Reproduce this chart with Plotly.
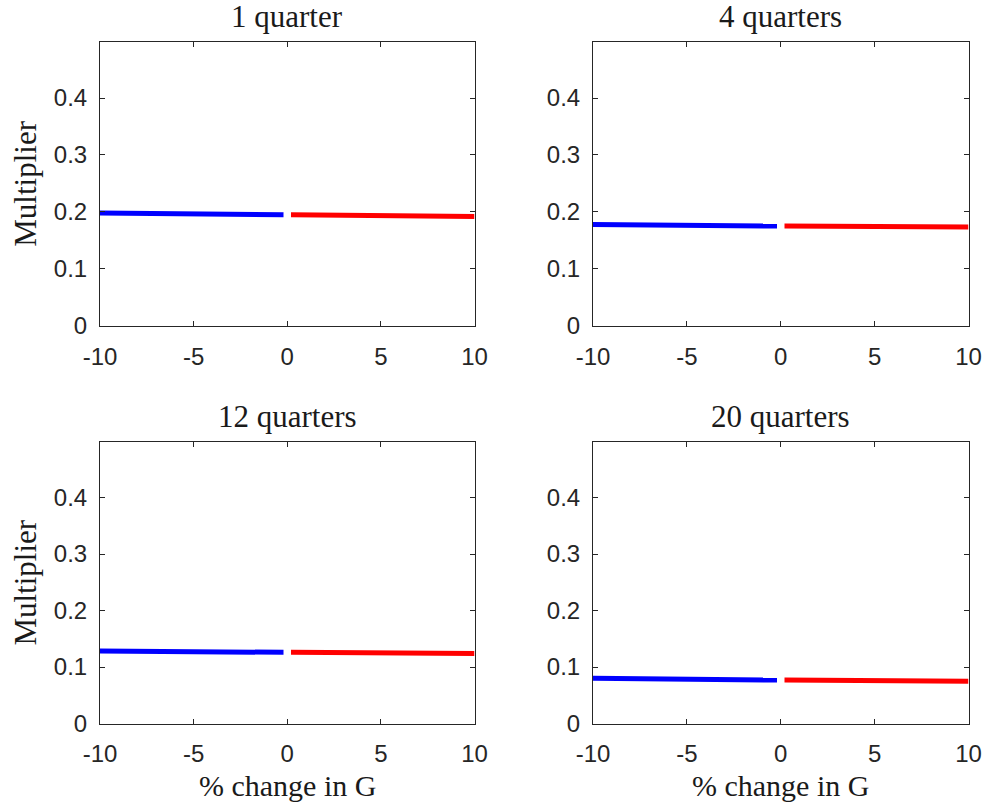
import plotly.graph_objects as go

# Data
titles = ["1 quarter", "4 quarters", "12 quarters", "20 quarters"]
x_neg = [-10, -5, -0.2]
x_pos = [0.2, 5, 10]
neg_vals = [
    [0.198, 0.1965, 0.195],
    [0.178, 0.1765, 0.175],
    [0.1285, 0.127, 0.126],
    [0.080, 0.0785, 0.077],
]
pos_vals = [
    [0.195, 0.1935, 0.192],
    [0.175, 0.1745, 0.1735],
    [0.126, 0.125, 0.124],
    [0.077, 0.076, 0.075],
]
x_ticks = [-10, -5, 0, 5, 10]
y_ticks = [0, 0.1, 0.2, 0.3, 0.4]
y_label = "Multiplier"
x_label = "% change in G"

W, H = 986, 803
xdom = [[100 / W, 474.5 / W], [593 / W, 968.5 / W], [100 / W, 474.5 / W], [593 / W, 968.5 / W]]
ydom = [[1 - 325.7 / H, 1 - 41.7 / H], [1 - 325.7 / H, 1 - 41.7 / H],
        [1 - 723.5 / H, 1 - 441.7 / H], [1 - 723.5 / H, 1 - 441.7 / H]]

axcol = "#262626"
tickfont = dict(family="Liberation Sans, Arial, sans-serif", size=24, color=axcol)
serif = dict(family="Liberation Serif, Times New Roman, serif", size=31, color="#1a1a1a")
serif_x = dict(family="Liberation Serif, Times New Roman, serif", size=30, color="#1a1a1a")

fig = go.Figure()
layout = dict(width=W, height=H, margin=dict(l=0, r=0, t=0, b=0),
              paper_bgcolor="white", plot_bgcolor="white", showlegend=False)
annotations = []
for i in range(4):
    sfx = "" if i == 0 else str(i + 1)
    fig.add_trace(go.Scatter(x=x_neg, y=neg_vals[i], mode="lines",
                             line=dict(color="#0000FF", width=5),
                             xaxis="x" + sfx, yaxis="y" + sfx))
    fig.add_trace(go.Scatter(x=x_pos, y=pos_vals[i], mode="lines",
                             line=dict(color="#FF0000", width=5),
                             xaxis="x" + sfx, yaxis="y" + sfx))
    layout["xaxis" + sfx] = dict(domain=xdom[i], range=[-10, 10], anchor="y" + sfx,
                                 tickvals=x_ticks, ticktext=[str(v) for v in x_ticks],
                                 showline=True, linecolor=axcol, linewidth=1, mirror="ticks",
                                 ticks="inside", ticklen=5, tickcolor=axcol, showgrid=False,
                                 zeroline=False, tickfont=tickfont, ticklabelstandoff=9,
                                 automargin=False)
    layout["yaxis" + sfx] = dict(domain=ydom[i], range=[0, 0.499], anchor="x" + sfx,
                                 tickvals=y_ticks, ticktext=["0", "0.1", "0.2", "0.3", "0.4"],
                                 showline=True, linecolor=axcol, linewidth=1, mirror="ticks",
                                 ticks="inside", ticklen=5, tickcolor=axcol, showgrid=False,
                                 zeroline=False, tickfont=tickfont, ticklabelstandoff=7,
                                 automargin=False)
    cx = (xdom[i][0] + xdom[i][1]) / 2
    annotations.append(dict(text=titles[i], x=cx, y=ydom[i][1], xref="paper", yref="paper",
                            xanchor="center", yanchor="bottom", yshift=6, showarrow=False,
                            font=serif))
    if i in (0, 2):
        annotations.append(dict(text=y_label, x=26 / W, y=(ydom[i][0] + ydom[i][1]) / 2,
                                xref="paper", yref="paper", textangle=-90,
                                xanchor="center", yanchor="middle", showarrow=False, font=serif))
    if i in (2, 3):
        annotations.append(dict(text=x_label, x=cx, y=0, xref="paper", yref="paper",
                                xanchor="center", yanchor="bottom", borderpad=0,
                                showarrow=False, font=serif_x))
layout["annotations"] = annotations
fig.update_layout(**layout)
fig.write_html("out.html")
